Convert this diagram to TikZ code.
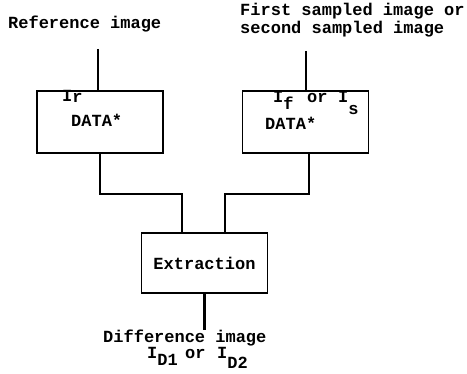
\documentclass[tikz,border=0pt]{standalone}
\usepackage{fontspec}
\setmainfont{Liberation Mono}
\begin{document}
\begin{tikzpicture}[x=1pt,y=-1pt,font=\fontsize{17}{18}\selectfont\bfseries]
\tikzset{blk/.style={draw,line width=1.8pt,minimum width=126pt,minimum height=62pt,inner sep=0pt},
  wire/.style={line width=2.4pt},
  lbl/.style={anchor=base west,inner sep=0pt}}
\useasboundingbox (0,0) rectangle (467,374);

% inputs
\node[lbl] (reftxt) at (8,29) {Reference image};
\node[lbl,align=left] (samtxt) at (240,34) {First sampled image or\\second sampled image};

% boxes
\node[blk] (lbox) at (100,122) {};
\node[blk] (rbox) at (305.5,122) {};
\node[blk,minimum height=60pt] (ext) at (204.5,263) {Extraction};

\node[lbl] (lsym) at (62,102) {I\raisebox{-1pt}{r}};
\node[lbl] (ldata) at (71,127) {DATA*};
\node[lbl] (rsym) at (273,103) {I\raisebox{-7pt}{f}\hspace{13.6pt}or\hspace{10.6pt}I\raisebox{-12pt}{s}};
\node[lbl] (rdata) at (265,130) {DATA*};

% output
\node[lbl] (difftxt) at (103,343) {Difference image};
\node[lbl] (dsym) at (147,359) {I\raisebox{-7pt}{D1}\hspace{7.4pt}or\hspace{11.6pt}I\raisebox{-10pt}{D2}};

% connectors
\coordinate (refin) at (98,49);
\coordinate (samin) at (306,51);
\coordinate (dout) at (204.5,330);
\draw[wire] (refin) -- (refin |- lbox.north);
\draw[wire] (samin) -- (samin |- rbox.north);
\draw[wire] (lbox.south) -- ++(0,40) -| ([xshift=-22.5pt]ext.north);
\draw[wire] ([xshift=3.5pt]rbox.south) -- ++(0,40) -| ([xshift=20.5pt]ext.north);
\draw[wire] (ext.south) -- (dout);
\end{tikzpicture}
\end{document}
